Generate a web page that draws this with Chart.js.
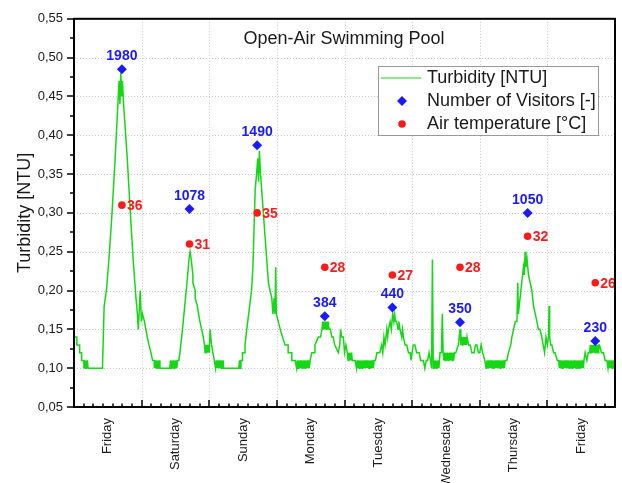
<!DOCTYPE html>
<html>
<head>
<meta charset="utf-8">
<script src="https://cdn.jsdelivr.net/npm/chart.js@4"></script>
<style>
  body { margin: 0; background: #fff; }
  canvas { display: block; }
</style>
</head>
<body>
<canvas id="chart" width="622" height="483"></canvas>
<script>
// x values are hours since Friday 00:00
const dayLabels = ["Friday", "Saturday", "Sunday", "Monday", "Tuesday", "Wednesday", "Thursday", "Friday"];

const turbidity = [
  // Friday
  [0,0.14],[1,0.14],[1,0.13],[2,0.13],[2,0.12],[2.7,0.12],[2.7,0.11],[3.5,0.11],
  [3.5,0.10],[3.75,0.11],[4,0.10],[4.25,0.11],[4.5,0.10],[4.75,0.11],[5,0.10],
  [10.1,0.10],[10.7,0.18],[11.5,0.20],[12.4,0.24],[13.5,0.30],[14.6,0.37],[15.3,0.42],[15.7,0.45],[16.0,0.47],
  [16.3,0.44],[16.6,0.48],[16.9,0.45],[17.2,0.47],[17.6,0.44],[18.9,0.37],[20.0,0.30],[21.0,0.24],[22.0,0.19],
  [22.5,0.17],[22.8,0.15],[23.1,0.17],[23.5,0.20],[23.9,0.16],
  // Saturday
  [24.3,0.17],[25,0.16],[25.5,0.15],[26,0.14],[26.6,0.13],[27.3,0.12],[27.9,0.11],[28.5,0.11],
  [28.5,0.10],[28.75,0.11],[29,0.10],[29.25,0.11],[29.5,0.10],[29.75,0.11],[30,0.10],[30.25,0.11],[30.5,0.10],
  [34,0.10],[34.25,0.11],[34.5,0.10],[34.75,0.11],[35,0.10],[35.25,0.11],[35.5,0.10],[35.75,0.11],[36,0.10],
  [36.25,0.11],[36.5,0.10],[36.75,0.11],[37.2,0.11],
  [37.6,0.12],[38.5,0.15],[39.3,0.18],[40.1,0.21],[40.8,0.24],[41.2,0.25],[41.6,0.24],[42.2,0.22],
  [42.2,0.21],[43,0.20],[43,0.19],[43.8,0.18],[44.2,0.17],[44.7,0.16],[45.3,0.15],[45.9,0.14],[46.3,0.13],
  [46.55,0.12],[46.8,0.13],[47.05,0.12],[47.3,0.13],[47.55,0.12],[47.8,0.13],
  // Sunday
  [48.0,0.12],[48.3,0.15],[48.8,0.13],[49.3,0.12],[49.8,0.11],
  [50.25,0.10],[50.5,0.11],[50.75,0.10],[51,0.11],[51.25,0.10],[51.5,0.11],[51.75,0.10],[52,0.11],
  [52.25,0.10],[52.5,0.11],[52.75,0.10],[53,0.11],[53,0.10],
  [58.5,0.10],[58.75,0.11],[59,0.10],[59.25,0.11],[59.8,0.11],[59.8,0.12],[60.7,0.12],[60.7,0.13],
  [61.3,0.15],[62,0.17],[63,0.20],[63.5,0.23],[64.3,0.33],[64.8,0.35],[65.2,0.37],[65.5,0.34],[65.8,0.38],
  [66.2,0.35],[66.6,0.33],[67.2,0.30],[67.8,0.27],[68.4,0.24],[69,0.21],[69.6,0.20],[70.2,0.19],[70.6,0.17],
  [71,0.19],[71.3,0.17],[71.6,0.23],[71.8,0.17],
  // Monday
  [72.5,0.16],[73.2,0.15],[74,0.14],[74.9,0.13],[76,0.13],[76,0.12],[77.3,0.12],[77.3,0.11],[78.5,0.11],
  [79,0.10],[79.25,0.11],[79.5,0.10],[79.75,0.11],[80,0.10],[80.25,0.11],[80.5,0.10],[80.75,0.11],[81,0.10],
  [81.25,0.11],[81.5,0.10],[81.75,0.11],[82,0.10],[82.25,0.11],[82.5,0.10],[82.75,0.11],[83,0.10],[83.25,0.11],
  [83.5,0.10],[83.8,0.11],
  [84.4,0.12],[85.5,0.12],[85.5,0.13],[86.7,0.14],[87.5,0.14],[88,0.15],
  [88.25,0.16],[88.5,0.15],[88.75,0.16],[89,0.15],[89.25,0.16],[89.5,0.15],[89.75,0.16],[90,0.15],[90.25,0.16],
  [90.5,0.15],[91,0.15],[91.5,0.14],[92,0.14],[92.5,0.13],[93.8,0.12],[94.3,0.13],[94.6,0.15],[95,0.14],[95.6,0.14],
  // Tuesday
  [96,0.12],[96.5,0.13],[97,0.12],[97.25,0.11],[97.5,0.12],[97.75,0.11],[98,0.12],[98.25,0.11],[98.5,0.12],
  [98.75,0.11],[99.8,0.11],
  [100.25,0.10],[100.5,0.11],[100.75,0.10],[101,0.11],[101.25,0.10],[101.5,0.11],[101.75,0.10],[102,0.11],
  [102.25,0.10],[102.5,0.11],[102.75,0.10],[103,0.11],[103.25,0.10],[103.5,0.11],[103.75,0.10],[104,0.11],
  [104.25,0.10],[104.5,0.11],[104.75,0.10],[105,0.11],[105.25,0.10],[105.5,0.11],[105.75,0.10],[106,0.11],
  [106.25,0.10],[106.5,0.11],[107,0.11],
  [107.5,0.12],[108.5,0.12],[109.2,0.13],[109.6,0.12],[110,0.14],[110.4,0.13],[111,0.15],[111.3,0.14],[111.6,0.15],
  [112.2,0.16],[112.6,0.15],[113.1,0.17],[113.5,0.16],[113.8,0.17],[114.1,0.16],[114.5,0.16],[115,0.15],
  [115.3,0.16],[115.7,0.15],[116.3,0.14],[116.6,0.15],[116.9,0.14],[117.5,0.13],[118.1,0.13],[118.7,0.12],
  [119.3,0.12],[119.6,0.11],
  // Wednesday
  [120,0.12],[120.4,0.13],[121,0.13],[121.6,0.12],[122.5,0.12],[123,0.11],[124,0.11],[124.5,0.10],[125,0.11],
  [125.5,0.11],[126,0.12],[126.5,0.11],[126.9,0.10],[127.2,0.24],[127.5,0.10],
  [127.75,0.11],[128,0.10],[128.25,0.11],[128.5,0.10],[128.75,0.11],[129,0.10],[129.25,0.11],[129.5,0.10],
  [129.9,0.12],[130.4,0.12],[130.7,0.17],[131,0.12],
  [131.25,0.11],[131.5,0.12],[131.75,0.11],[132,0.12],[132.25,0.11],[132.5,0.12],[132.75,0.11],[133,0.12],
  [133.25,0.11],[133.5,0.12],[133.75,0.11],[134,0.12],[134.25,0.11],[134.5,0.12],[134.75,0.11],[135,0.12],
  [135.5,0.12],[136.4,0.13],[137,0.15],[137.3,0.13],
  [137.5,0.14],[137.75,0.13],[138,0.14],[138.25,0.13],[138.5,0.14],[138.75,0.13],[139,0.14],[139.25,0.13],
  [139.5,0.14],[140,0.13],[140.6,0.13],[141.2,0.12],[142,0.12],[142.5,0.13],[143,0.13],[143.5,0.12],
  // Thursday
  [144,0.12],[144.5,0.13],[145,0.12],[145.8,0.11],
  [146.25,0.10],[146.5,0.11],[146.75,0.10],[147,0.11],[147.25,0.10],[147.5,0.11],[147.75,0.10],[148,0.11],
  [148.25,0.10],[148.5,0.11],[148.75,0.10],[149,0.11],[149.25,0.10],[149.5,0.11],[149.75,0.10],[150,0.11],
  [150.25,0.10],[150.5,0.11],[150.75,0.10],[151,0.11],[151.25,0.10],[151.5,0.11],[151.75,0.10],[152,0.11],
  [152.25,0.10],[152.5,0.11],[152.75,0.10],[153,0.11],[153.6,0.11],
  [154.2,0.12],[155,0.13],[155.4,0.14],[156,0.15],[156.6,0.16],[157.2,0.16],[157.5,0.21],[157.7,0.17],[158.3,0.19],
  [158.9,0.21],[159.5,0.23],[159.8,0.22],[160.1,0.25],[160.4,0.23],[160.8,0.24],[161.3,0.22],[162.5,0.20],
  [163.1,0.18],[163.7,0.17],[164.3,0.16],[164.8,0.15],[165.4,0.15],[166,0.14],[166.5,0.13],[167,0.12],[167.5,0.14],
  // Friday
  [168,0.13],[168.4,0.14],[168.6,0.18],[168.8,0.14],[169.2,0.13],[169.6,0.13],[170.2,0.12],[170.7,0.12],
  [171.5,0.11],[172,0.11],
  [172.25,0.10],[172.5,0.11],[172.75,0.10],[173,0.11],[173.25,0.10],[173.5,0.11],[173.75,0.10],[174,0.11],
  [174.25,0.10],[174.5,0.11],[174.75,0.10],[175,0.11],[175.25,0.10],[175.5,0.11],[175.75,0.10],[176,0.11],
  [176.25,0.10],[176.5,0.11],[176.75,0.10],[177,0.11],[177.25,0.10],[177.5,0.11],[177.75,0.10],[178,0.11],
  [178.25,0.10],[178.5,0.11],[178.75,0.10],[179,0.11],[179.25,0.10],[179.5,0.11],[179.75,0.10],[180,0.11],
  [180.25,0.10],[180.5,0.11],[180.75,0.10],[181,0.11],
  [181.4,0.12],[182,0.11],[182.5,0.12],[183,0.12],
  [183.25,0.13],[183.5,0.12],[183.75,0.13],[184,0.12],[184.25,0.13],[184.5,0.12],[184.75,0.13],[185,0.12],
  [185.25,0.13],[185.5,0.12],[185.75,0.13],[186,0.12],[186.25,0.13],[186.5,0.13],[187.2,0.12],[187.9,0.12],
  [188.5,0.11],[189.1,0.11],
  [189.5,0.10],[189.75,0.11],[190,0.10],[190.25,0.11],[190.5,0.10],[190.75,0.11],[191,0.10],[191.25,0.11],
  [191.5,0.10],[191.75,0.11],[192,0.11]
];

// afternoon markers, one per day
const markerHours = [17, 41, 65, 89, 113, 137, 161, 185];
const visitorLevel = [0.485, 0.305, 0.387, 0.167, 0.178, 0.159, 0.300, 0.135];
const visitorCount = [1980, 1078, 1490, 384, 440, 350, 1050, 230];
const tempLevel = [0.31, 0.26, 0.30, 0.23, 0.22, 0.23, 0.27, 0.21];
const tempValue = [36, 31, 35, 28, 27, 28, 32, 26];

const GREEN = "#14d814";
const BLUE = "#1a1aff";
const RED = "#ff1a1a";
const FONT = "'Liberation Sans', Arial, sans-serif";

const decorations = {
  id: "decorations",
  beforeDatasetsDraw(chart) {
    const { ctx, chartArea: a, scales: { x, y } } = chart;
    ctx.save();
    ctx.strokeStyle = "#c8c8c8";
    ctx.lineWidth = 1;
    ctx.setLineDash([1, 2]);
    for (let i = 1; i <= 9; i++) {
      const py = Math.round(y.getPixelForValue(0.05 + i * 0.05)) + 0.5;
      ctx.beginPath(); ctx.moveTo(a.left, py); ctx.lineTo(a.right, py); ctx.stroke();
    }
    for (let d = 1; d < 8; d++) {
      const px = Math.round(x.getPixelForValue(d * 24)) + 0.5;
      ctx.beginPath(); ctx.moveTo(px, a.top); ctx.lineTo(px, a.bottom); ctx.stroke();
    }
    ctx.restore();
  },
  afterDatasetsDraw(chart) {
    const { ctx } = chart;
    ctx.save();
    ctx.font = "bold 14px " + FONT;
    const vis = chart.getDatasetMeta(1).data;
    ctx.fillStyle = BLUE;
    ctx.textAlign = "center";
    ctx.textBaseline = "middle";
    vis.forEach((p, i) => ctx.fillText(String(visitorCount[i]), p.x, p.y - 13));
    const tmp = chart.getDatasetMeta(2).data;
    ctx.fillStyle = RED;
    ctx.textAlign = "left";
    tmp.forEach((p, i) => ctx.fillText(String(tempValue[i]), p.x + 5, p.y + 1));
    ctx.restore();
  },
  afterDraw(chart) {
    const { ctx, chartArea: a, scales: { x, y } } = chart;
    ctx.save();
    // axis ticks
    ctx.strokeStyle = "#000";
    ctx.lineWidth = 1.5;
    for (let i = 0; i <= 20; i++) {
      const py = Math.round(y.getPixelForValue(0.05 + i * 0.025));
      const len = i % 2 === 0 ? 7 : 4;
      ctx.beginPath(); ctx.moveTo(a.left - len, py); ctx.lineTo(a.left, py); ctx.stroke();
    }
    for (let d = 0; d <= 8; d++) {
      const px = Math.round(x.getPixelForValue(d * 24));
      ctx.beginPath(); ctx.moveTo(px, a.bottom); ctx.lineTo(px, a.bottom - 7); ctx.stroke();
      if (d === 8) break;
      for (let k = 1; k < 7; k++) {
        const mx = Math.round(x.getPixelForValue((d + k / 7) * 24));
        ctx.beginPath(); ctx.moveTo(mx, a.bottom); ctx.lineTo(mx, a.bottom - 3.5); ctx.stroke();
      }
    }
    // frame
    ctx.lineWidth = 2;
    ctx.strokeRect(a.left, a.top, a.right - a.left, a.bottom - a.top);

    // title inside the plot
    ctx.fillStyle = "#1a1a1a";
    ctx.font = "18px " + FONT;
    ctx.textAlign = "center";
    ctx.textBaseline = "middle";
    ctx.fillText("Open-Air Swimming Pool", 344, 39);

    // legend
    const lx = 378, ly = 66, lw = 220, lh = 69;
    ctx.fillStyle = "#fff";
    ctx.fillRect(lx, ly, lw, lh);
    ctx.strokeStyle = "#999";
    ctx.lineWidth = 1;
    ctx.strokeRect(lx + 0.5, ly + 0.5, lw, lh);
    const rows = [78, 101, 124];
    ctx.strokeStyle = GREEN;
    ctx.lineWidth = 1.2;
    ctx.beginPath(); ctx.moveTo(381, rows[0]); ctx.lineTo(421, rows[0]); ctx.stroke();
    ctx.fillStyle = BLUE;
    ctx.beginPath();
    ctx.moveTo(402, rows[1] - 5); ctx.lineTo(407, rows[1]); ctx.lineTo(402, rows[1] + 5); ctx.lineTo(397, rows[1]);
    ctx.closePath(); ctx.fill();
    ctx.fillStyle = RED;
    ctx.beginPath(); ctx.arc(402, rows[2], 3.8, 0, Math.PI * 2); ctx.fill();
    ctx.fillStyle = "#1a1a1a";
    ctx.font = "18px " + FONT;
    ctx.textAlign = "left";
    ctx.fillText("Turbidity [NTU]", 427, rows[0]);
    ctx.fillText("Number of Visitors [-]", 427, rows[1]);
    ctx.fillText("Air temperature [°C]", 427, rows[2]);
    ctx.restore();
  }
};

new Chart(document.getElementById("chart"), {
  type: "line",
  data: {
    datasets: [
      {
        label: "Turbidity [NTU]",
        data: turbidity.map(([h, v]) => ({ x: h, y: v })),
        borderColor: GREEN,
        borderWidth: 1.5,
        pointRadius: 0,
        tension: 0,
        order: 3
      },
      {
        label: "Number of Visitors [-]",
        data: markerHours.map((h, i) => ({ x: h, y: visitorLevel[i] })),
        showLine: false,
        pointStyle: "rectRot",
        pointRadius: 5,
        backgroundColor: BLUE,
        borderColor: BLUE,
        borderWidth: 0,
        order: 1
      },
      {
        label: "Air temperature [°C]",
        data: markerHours.map((h, i) => ({ x: h, y: tempLevel[i] })),
        showLine: false,
        pointStyle: "circle",
        pointRadius: 3.8,
        backgroundColor: RED,
        borderColor: RED,
        borderWidth: 0,
        order: 2
      }
    ]
  },
  options: {
    responsive: false,
    animation: false,
    layout: { padding: { top: 17, right: 7, left: 0, bottom: 0 } },
    plugins: { legend: { display: false }, tooltip: { enabled: false } },
    scales: {
      x: {
        type: "linear",
        min: 0,
        max: 192,
        grid: { display: false, drawTicks: false, tickLength: 0 },
        border: { display: false },
        afterBuildTicks: s => { s.ticks = dayLabels.map((_, i) => ({ value: i * 24 + 12 })); },
        afterFit: s => { s.height = 76; },
        ticks: {
          autoSkip: false,
          minRotation: 90,
          maxRotation: 90,
          padding: 11,
          color: "#1a1a1a",
          font: { family: FONT, size: 13 },
          callback: (v, i) => dayLabels[i]
        }
      },
      y: {
        min: 0.05,
        max: 0.55,
        grid: { display: false, drawTicks: false, tickLength: 0 },
        border: { display: false },
        afterFit: s => { s.width = 74; },
        ticks: {
          stepSize: 0.05,
          padding: 11,
          color: "#1a1a1a",
          font: { family: FONT, size: 13 },
          callback: v => v.toFixed(2).replace(".", ",")
        },
        title: {
          display: true,
          text: "Turbidity [NTU]",
          color: "#1a1a1a",
          font: { family: FONT, size: 18 },
          padding: { top: 14, bottom: 0 }
        }
      }
    }
  },
  plugins: [decorations]
});
</script>
</body>
</html>
